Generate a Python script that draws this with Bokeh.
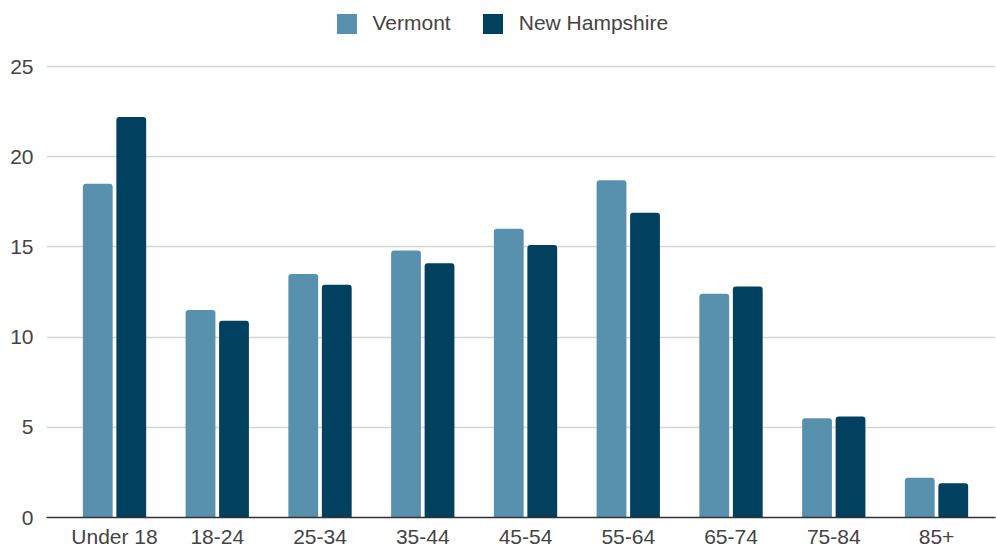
from bokeh.plotting import figure
from bokeh.models import ColumnDataSource, FixedTicker, Range1d, Legend, LegendItem
from bokeh.transform import dodge
from bokeh.embed import file_html
from bokeh.resources import INLINE

categories = ["Under 18", "18-24", "25-34", "35-44", "45-54", "55-64", "65-74", "75-84", "85+"]
vermont = [18.5, 11.5, 13.5, 14.8, 16.0, 18.7, 12.4, 5.5, 2.2]
new_hampshire = [22.2, 10.9, 12.9, 14.1, 15.1, 16.9, 12.8, 5.6, 1.9]
y_ticks = [0, 5, 10, 15, 20, 25]

VT_COLOR = "#5891AD"
NH_COLOR = "#01405E"
TEXT = "#444444"
FONT = "Liberation Sans"
FS = "21px"

idx = list(range(len(categories)))
src = ColumnDataSource(dict(x=idx, vt=vermont, nh=new_hampshire))

p = figure(width=996, height=550, output_backend="svg", toolbar_location=None,
           x_range=Range1d(-0.662, 8.574), y_range=Range1d(0, 28.66),
           min_border_left=46, min_border_right=1, min_border_top=0, min_border_bottom=33)
p.outline_line_color = None
p.background_fill_color = "white"
p.border_fill_color = "white"

r1 = p.vbar(x=dodge("x", -0.163, range=p.x_range), top="vt", width=0.29, source=src,
            fill_color=VT_COLOR, line_color=None, border_radius=(3, 3, 0, 0))
r2 = p.vbar(x=dodge("x", 0.163, range=p.x_range), top="nh", width=0.29, source=src,
            fill_color=NH_COLOR, line_color=None, border_radius=(3, 3, 0, 0))

p.xgrid.visible = False
p.ygrid.grid_line_color = "#d6d6d6"
p.ygrid.grid_line_width = 1.5
p.yaxis.ticker = FixedTicker(ticks=y_ticks)
p.xaxis.ticker = FixedTicker(ticks=idx)
p.xaxis.major_label_overrides = {i: c for i, c in enumerate(categories)}

for ax in (p.xaxis[0], p.yaxis[0]):
    ax.major_tick_line_color = None
    ax.minor_tick_line_color = None
    ax.major_label_text_font = FONT
    ax.major_label_text_font_size = FS
    ax.major_label_text_color = TEXT
p.yaxis.axis_line_color = None
p.yaxis.major_label_standoff = 7
p.xaxis.axis_line_color = "#333333"
p.xaxis.axis_line_width = 1.5
p.xaxis.major_label_standoff = 1

legend = Legend(items=[LegendItem(label="Vermont", renderers=[r1]),
                       LegendItem(label="New Hampshire", renderers=[r2])],
                orientation="horizontal", location=(287.5, 481.5),
                glyph_width=25, glyph_height=25, label_standoff=14, spacing=29,
                padding=0, margin=0, border_line_color=None, background_fill_alpha=0,
                label_text_font=FONT, label_text_font_size=FS, label_text_color=TEXT)
p.add_layout(legend, "center")

open("out.html", "w").write(file_html(p, INLINE))
